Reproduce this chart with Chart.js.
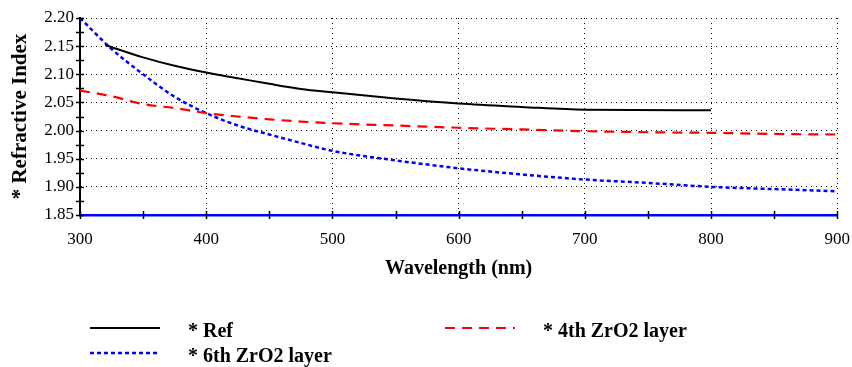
<!DOCTYPE html>
<html>
<head>
<meta charset="utf-8">
<script src="https://cdn.jsdelivr.net/npm/chart.js@4.4.1/dist/chart.umd.min.js"></script>
<style>
  html, body { margin: 0; padding: 0; background: #fff; }
  #wrap { position: relative; width: 852px; height: 367px; }
</style>
</head>
<body>
<div id="wrap"><canvas id="chart" width="852" height="367"></canvas></div>
<script>
// Refractive index vs wavelength.
var refWavelength = [320, 350, 375, 400, 425, 450, 475, 500, 550, 600, 650, 700, 800];
var refIndex = [2.152, 2.130, 2.115, 2.103, 2.093, 2.083, 2.074, 2.068, 2.057, 2.048, 2.042, 2.037, 2.036];

var layerWavelength = [300, 325, 350, 375, 400, 425, 450, 475, 500, 550, 600, 650, 700, 750, 800, 850, 900];
var zr4Index = [2.071, 2.061, 2.047, 2.040, 2.031, 2.025, 2.020, 2.016, 2.013, 2.009, 2.005, 2.002, 1.999, 1.997, 1.996, 1.994, 1.993];
var zr6Index = [2.200, 2.145, 2.100, 2.060, 2.031, 2.009, 1.993, 1.978, 1.964, 1.947, 1.933, 1.922, 1.913, 1.907, 1.900, 1.896, 1.892];

var seriesLabels = ["* Ref", "* 4th ZrO2 layer", "* 6th ZrO2 layer"];
var xTitle = "Wavelength (nm)";
var yTitle = "* Refractive Index";

var SERIF = "'Liberation Serif', 'Times New Roman', serif";

function pairs(xs, ys) {
  return xs.map(function (x, i) { return { x: x, y: ys[i] }; });
}

// Solid minor/major tick marks crossing both axes (grid lines are dotted).
var axisTicksPlugin = {
  id: "axisTicks",
  afterDraw: function (chart) {
    var c = chart.ctx, xs = chart.scales.x, ys = chart.scales.y, a = chart.chartArea;
    c.save();
    c.strokeStyle = "#000";
    c.lineWidth = 1.5;
    c.beginPath();
    for (var v = 300; v <= 900; v += 50) {
      var px = Math.round(xs.getPixelForValue(v)) + 0.5;
      c.moveTo(px, a.bottom - 4);
      c.lineTo(px, a.bottom + 4);
    }
    for (var k = 0; k <= 14; k++) {
      var py = Math.round(ys.getPixelForValue(1.85 + k * 0.025)) + 0.5;
      c.moveTo(a.left - 4, py);
      c.lineTo(a.left + 4, py);
    }
    c.stroke();
    c.restore();
  }
};

// Legend in two rows below the x-axis title, like the original figure.
var slotPos = [[90, 328], [445, 328], [90, 353]];
var legendPlugin = {
  id: "bottomLegend",
  afterDraw: function (chart) {
    var c = chart.ctx;
    c.save();
    c.font = "bold 20px " + SERIF;
    c.textBaseline = "middle";
    c.fillStyle = "#000";
    chart.data.datasets.forEach(function (ds, i) {
      var p = slotPos[i];
      c.strokeStyle = ds.borderColor;
      c.lineWidth = ds.borderWidth;
      c.setLineDash(ds.borderDash || []);
      c.beginPath();
      c.moveTo(p[0], p[1]);
      c.lineTo(p[0] + 70, p[1]);
      c.stroke();
      c.setLineDash([]);
      c.fillText(ds.label, p[0] + 98, p[1] + 4);
    });
    c.restore();
  }
};

new Chart(document.getElementById("chart"), {
  type: "line",
  plugins: [axisTicksPlugin, legendPlugin],
  data: {
    datasets: [
      {
        label: seriesLabels[0],
        data: pairs(refWavelength, refIndex),
        borderColor: "#000000",
        borderWidth: 2,
        pointRadius: 0,
        cubicInterpolationMode: "monotone"
      },
      {
        label: seriesLabels[1],
        data: pairs(layerWavelength, zr4Index),
        borderColor: "#ff0000",
        borderWidth: 2.2,
        borderDash: [10, 7],
        pointRadius: 0,
        cubicInterpolationMode: "monotone"
      },
      {
        label: seriesLabels[2],
        data: pairs(layerWavelength, zr6Index),
        borderColor: "#0000ff",
        borderWidth: 2.5,
        borderDash: [4, 3],
        pointRadius: 0,
        cubicInterpolationMode: "monotone"
      }
    ]
  },
  options: {
    responsive: false,
    animation: false,
    layout: { padding: { left: 0, right: 2, top: 18, bottom: 86 } },
    plugins: { legend: { display: false }, tooltip: { enabled: false } },
    scales: {
      x: {
        type: "linear",
        min: 300,
        max: 900,
        afterFit: function (s) { s.height = 66; },
        ticks: {
          stepSize: 100,
          padding: 2,
          color: "#000",
          font: { family: SERIF, size: 17 }
        },
        grid: { color: "#000", lineWidth: 1, drawTicks: true, tickLength: 12, tickColor: "rgba(0,0,0,0)" },
        border: { display: true, color: "#0000ff", width: 2.5, dash: [1, 4] },
        title: {
          display: true,
          text: xTitle,
          color: "#000",
          padding: 0,
          font: { family: SERIF, size: 20, weight: "bold" }
        }
      },
      y: {
        min: 1.85,
        max: 2.2,
        afterFit: function (s) { s.width = 80; },
        ticks: {
          stepSize: 0.05,
          padding: 6,
          color: "#000",
          font: { family: SERIF, size: 17 },
          callback: function (v) { return Number(v).toFixed(2); }
        },
        grid: { color: "#000", lineWidth: 1, drawTicks: false },
        border: { display: true, color: "#000", width: 2, dash: [1, 4] },
        title: {
          display: true,
          text: yTitle,
          color: "#000",
          padding: { top: 8, bottom: 0 },
          font: { family: SERIF, size: 21, weight: "bold" }
        }
      }
    }
  }
});
</script>
</body>
</html>
